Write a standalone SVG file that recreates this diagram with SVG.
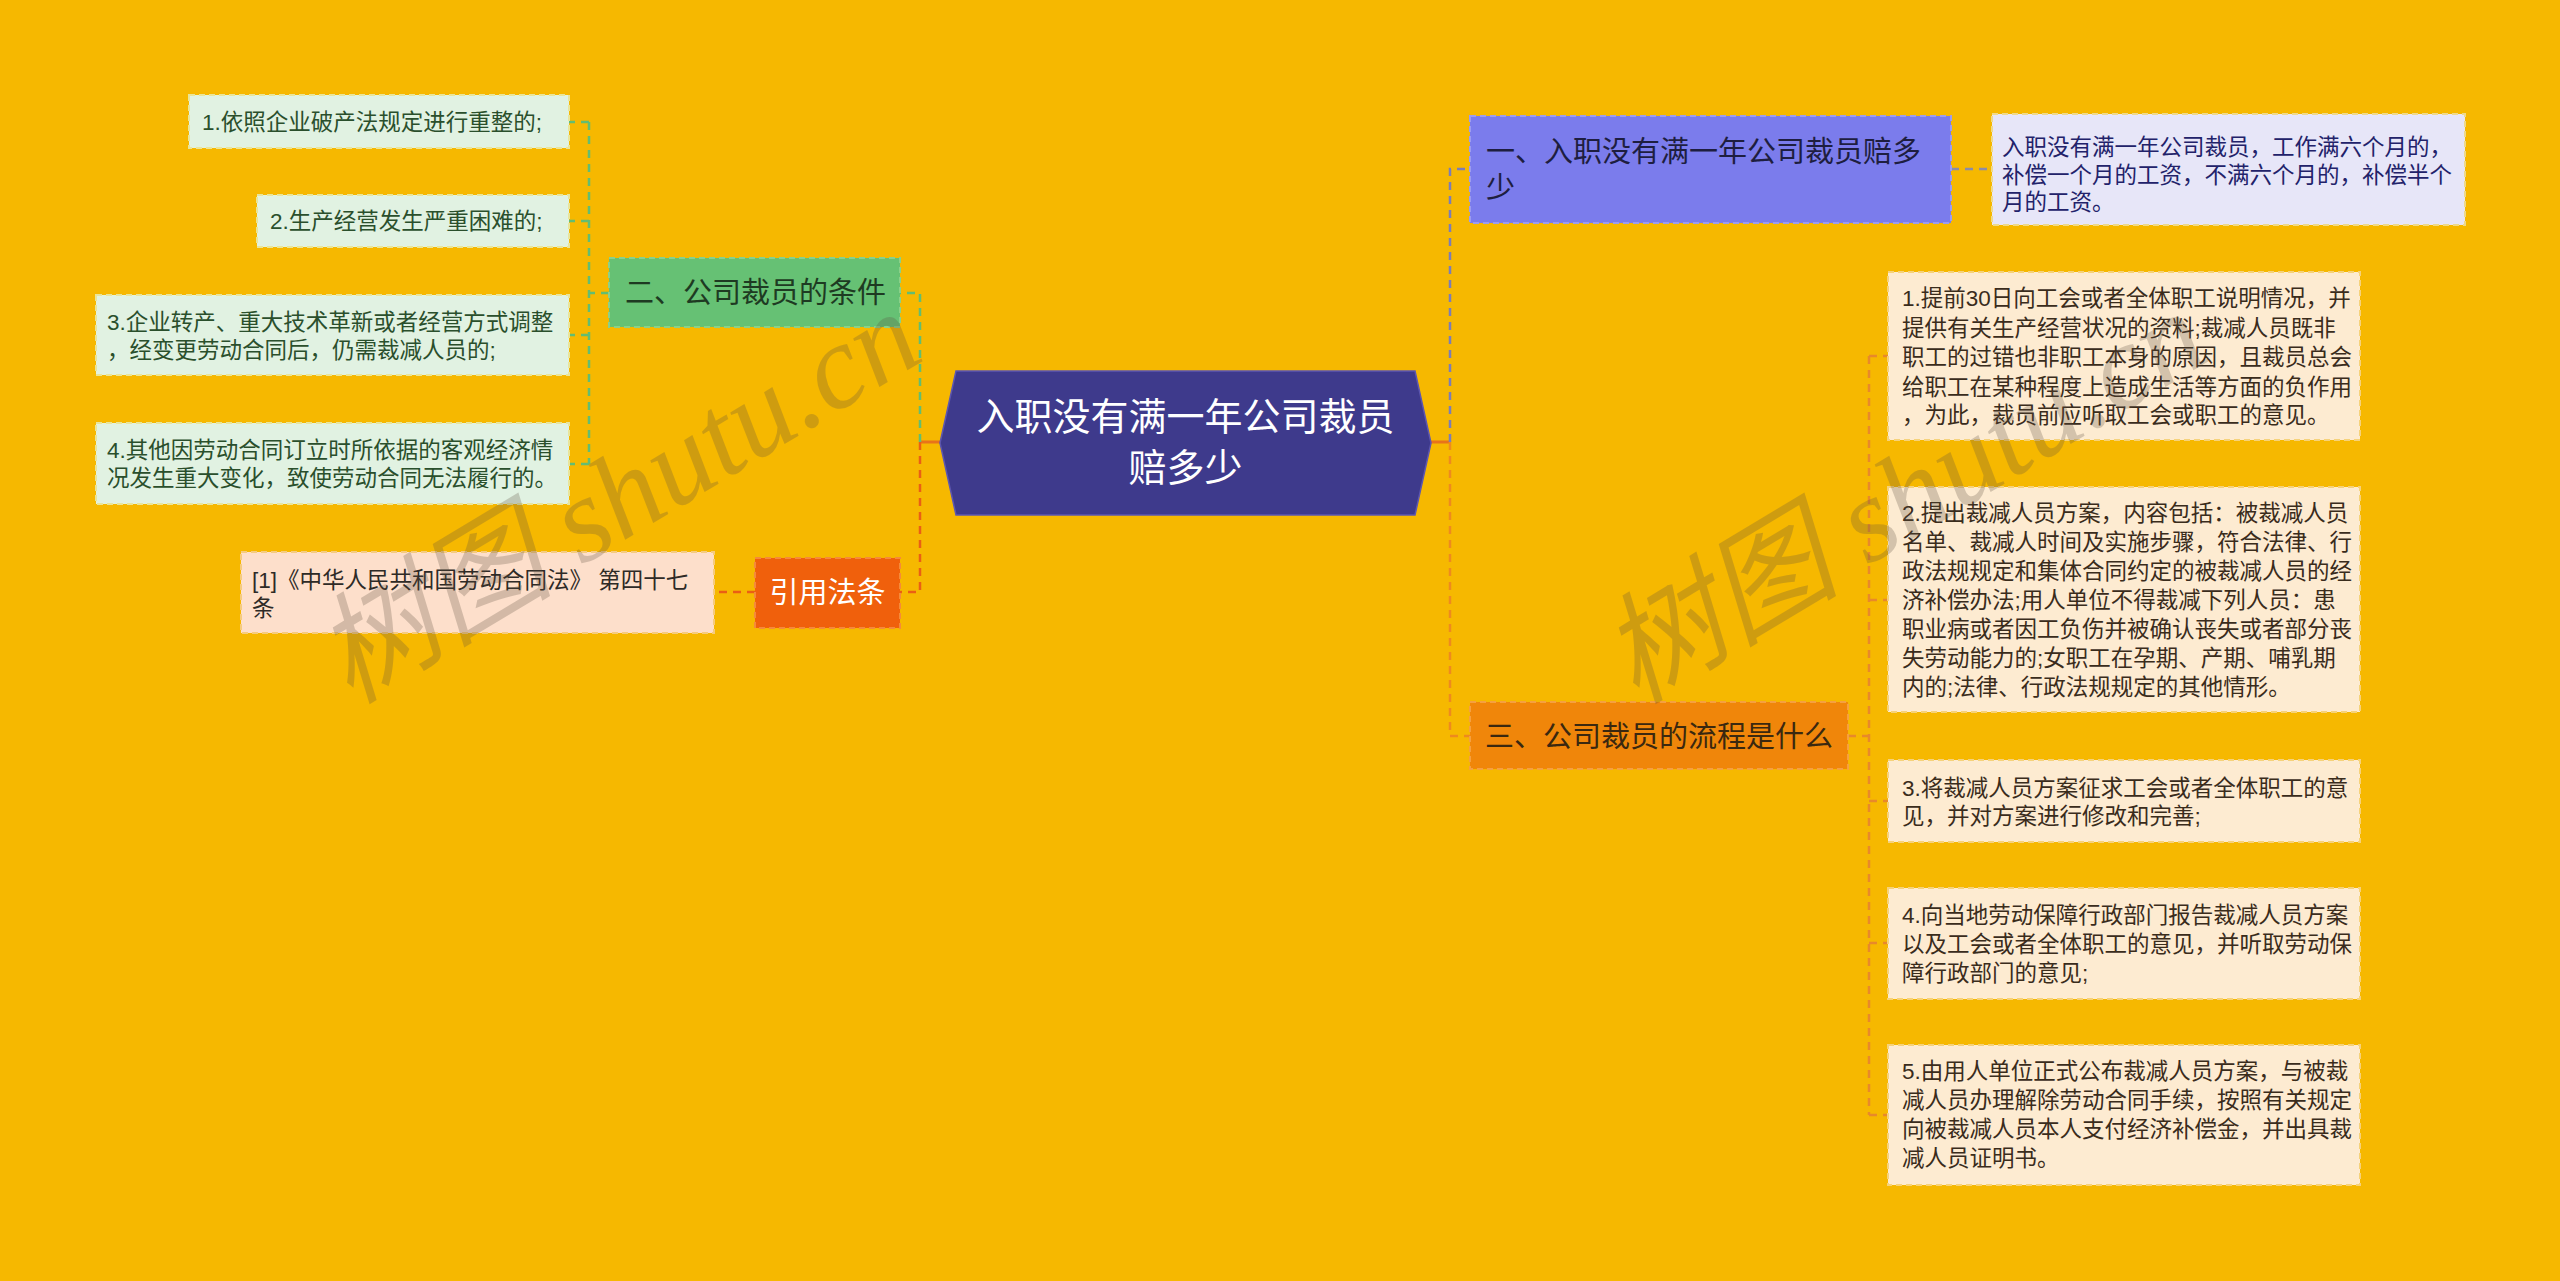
<svg xmlns="http://www.w3.org/2000/svg" width="2560" height="1281" viewBox="0 0 2560 1281">
<style>
text{font-family:'Liberation Sans','Noto Sans CJK SC',sans-serif;dominant-baseline:central}
.c{fill:none;stroke-width:2.5;stroke-dasharray:8 6}
.s{fill:none;stroke-width:3}
.leafG{fill:#E1F2E2;stroke:#E9E59A;stroke-width:2;stroke-dasharray:6 4}
.leafR{fill:#FDEBD1;stroke:#F6D27A;stroke-width:2;stroke-dasharray:6 4}
.leafP{fill:#FDDFCB;stroke:#F6CB7E;stroke-width:2;stroke-dasharray:6 4}
.leafL{fill:#E7E6F8;stroke:#EFD98A;stroke-width:2;stroke-dasharray:6 4}
.tG{font-size:22.5px;fill:#2A4F2C}
.tR{font-size:22.5px;fill:#3A2C1C}
.tP{font-size:22.5px;fill:#2E2A26}
.tL{font-size:22.5px;fill:#22226A}
.b{font-size:29px}
.wm{font-size:120px;fill:#5E5040;opacity:0.26;font-family:'Liberation Serif','Noto Sans CJK SC',serif;font-style:italic}
</style>
<rect width="2560" height="1281" fill="#F6B800"/>

<g id="connectors">
  <path class="s" stroke="#E8731A" d="M940 442H920M1431 442H1450"/>
  <path class="c" stroke="#62BD72" d="M920 442V293H900"/>
  <path class="c" stroke="#EA5F14" d="M920 442V592H900"/>
  <path class="c" stroke="#62BD72" d="M609 293H589M589 122V464M589 122H569M589 221H569M589 335H569M589 464H569"/>
  <path class="c" stroke="#EA5F14" d="M755 592H714"/>
  <path class="c" stroke="#7C7DB6" d="M1450 442V169H1470"/>
  <path class="c" stroke="#EE8A1E" d="M1450 442V736H1470"/>
  <path class="c" stroke="#8C8CA8" d="M1951 169H1992"/>
  <path class="c" stroke="#E8892A" d="M1848 736H1869M1869 356V1115M1869 356H1888M1869 600H1888M1869 801H1888M1869 943H1888M1869 1115H1888"/>
</g>

<g id="root">
  <polygon points="940,443 956,371 1415,371 1431,443 1415,515 956,515" fill="#3E3A8C" stroke="#5C56B0" stroke-width="1.5"/>
  <text x="1185.5" y="417" font-size="38" fill="#FFFFFF" text-anchor="middle">入职没有满一年公司裁员</text>
  <text x="1185.5" y="468" font-size="38" fill="#FFFFFF" text-anchor="middle">赔多少</text>
</g>

<g id="branch-2">
  <rect x="609" y="258" width="291" height="69" fill="#66C174" stroke="#8BD08A" stroke-width="2" stroke-dasharray="6 4"/>
  <text class="b" x="625" y="293" fill="#1E3A22">二、公司裁员的条件</text>
</g>
<g id="leaf-2-1">
  <rect class="leafG" x="189" y="95" width="380" height="53"/>
  <text class="tG" x="202" y="122">1.依照企业破产法规定进行重整的;</text>
</g>
<g id="leaf-2-2">
  <rect class="leafG" x="257" y="195" width="312" height="52"/>
  <text class="tG" x="270" y="221">2.生产经营发生严重困难的;</text>
</g>
<g id="leaf-2-3">
  <rect class="leafG" x="96" y="295" width="473" height="80"/>
  <text class="tG" x="107" y="322">3.企业转产、重大技术革新或者经营方式调整</text>
  <text class="tG" x="107" y="350">，经变更劳动合同后，仍需裁减人员的;</text>
</g>
<g id="leaf-2-4">
  <rect class="leafG" x="96" y="423" width="473" height="81"/>
  <text class="tG" x="107" y="450">4.其他因劳动合同订立时所依据的客观经济情</text>
  <text class="tG" x="107" y="478">况发生重大变化，致使劳动合同无法履行的。</text>
</g>

<g id="branch-law">
  <rect x="755" y="558" width="145" height="70" fill="#F0600C" stroke="#F58A3A" stroke-width="2" stroke-dasharray="6 4"/>
  <text class="b" x="827.5" y="593" fill="#FFFFFF" text-anchor="middle">引用法条</text>
</g>
<g id="leaf-law-1">
  <rect class="leafP" x="241" y="552" width="473" height="81"/>
  <text class="tP" x="252" y="580">[1]《中华人民共和国劳动合同法》 第四十七</text>
  <text class="tP" x="252" y="608">条</text>
</g>

<g id="branch-1">
  <rect x="1470" y="116" width="481" height="107" fill="#7B7CEC" stroke="#9C9CF0" stroke-width="2" stroke-dasharray="6 4"/>
  <text class="b" x="1486" y="152" fill="#1E1E40">一、入职没有满一年公司裁员赔多</text>
  <text class="b" x="1486" y="188" fill="#1E1E40">少</text>
</g>
<g id="leaf-1-1">
  <rect class="leafL" x="1992" y="114" width="473" height="111"/>
  <text class="tL" x="2002" y="147">入职没有满一年公司裁员，工作满六个月的，</text>
  <text class="tL" x="2002" y="175">补偿一个月的工资，不满六个月的，补偿半个</text>
  <text class="tL" x="2002" y="202">月的工资。</text>
</g>

<g id="branch-3">
  <rect x="1470" y="702" width="378" height="67" fill="#F0860A" stroke="#F5A040" stroke-width="2" stroke-dasharray="6 4"/>
  <text class="b" x="1485" y="737" fill="#3A2810">三、公司裁员的流程是什么</text>
</g>
<g id="leaf-3-1">
  <rect class="leafR" x="1888" y="272" width="472" height="168"/>
  <text class="tR" x="1902" y="298">1.提前30日向工会或者全体职工说明情况，并</text>
  <text class="tR" x="1902" y="328">提供有关生产经营状况的资料;裁减人员既非</text>
  <text class="tR" x="1902" y="357">职工的过错也非职工本身的原因，且裁员总会</text>
  <text class="tR" x="1902" y="387">给职工在某种程度上造成生活等方面的负作用</text>
  <text class="tR" x="1902" y="415">，为此，裁员前应听取工会或职工的意见。</text>
</g>
<g id="leaf-3-2">
  <rect class="leafR" x="1888" y="487" width="472" height="225"/>
  <text class="tR" x="1902" y="513">2.提出裁减人员方案，内容包括：被裁减人员</text>
  <text class="tR" x="1902" y="542">名单、裁减人时间及实施步骤，符合法律、行</text>
  <text class="tR" x="1902" y="571">政法规规定和集体合同约定的被裁减人员的经</text>
  <text class="tR" x="1902" y="600">济补偿办法;用人单位不得裁减下列人员：患</text>
  <text class="tR" x="1902" y="629">职业病或者因工负伤并被确认丧失或者部分丧</text>
  <text class="tR" x="1902" y="658">失劳动能力的;女职工在孕期、产期、哺乳期</text>
  <text class="tR" x="1902" y="687">内的;法律、行政法规规定的其他情形。</text>
</g>
<g id="leaf-3-3">
  <rect class="leafR" x="1888" y="760" width="472" height="82"/>
  <text class="tR" x="1902" y="788">3.将裁减人员方案征求工会或者全体职工的意</text>
  <text class="tR" x="1902" y="816">见，并对方案进行修改和完善;</text>
</g>
<g id="leaf-3-4">
  <rect class="leafR" x="1888" y="888" width="472" height="111"/>
  <text class="tR" x="1902" y="915">4.向当地劳动保障行政部门报告裁减人员方案</text>
  <text class="tR" x="1902" y="944">以及工会或者全体职工的意见，并听取劳动保</text>
  <text class="tR" x="1902" y="973">障行政部门的意见;</text>
</g>
<g id="leaf-3-5">
  <rect class="leafR" x="1888" y="1045" width="472" height="140"/>
  <text class="tR" x="1902" y="1071">5.由用人单位正式公布裁减人员方案，与被裁</text>
  <text class="tR" x="1902" y="1100">减人员办理解除劳动合同手续，按照有关规定</text>
  <text class="tR" x="1902" y="1129">向被裁减人员本人支付经济补偿金，并出具裁</text>
  <text class="tR" x="1902" y="1158">减人员证明书。</text>
</g>

<g id="watermarks">
  <text class="wm" x="350" y="705" transform="rotate(-31 350 705)" style="dominant-baseline:alphabetic">树图 shutu.cn</text>
  <text class="wm" x="1636" y="705" transform="rotate(-31 1636 705)" style="dominant-baseline:alphabetic">树图 shutu.cn</text>
</g>
</svg>
